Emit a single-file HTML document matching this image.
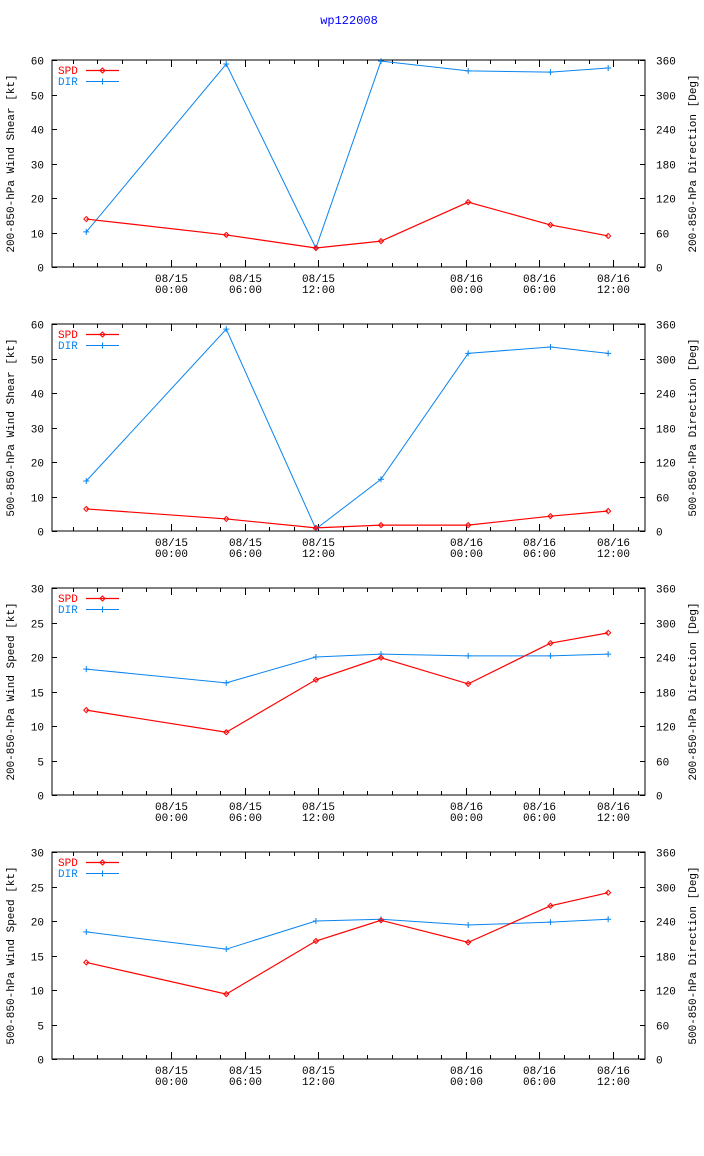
<!DOCTYPE html>
<html><head><meta charset="utf-8"><style>
body{margin:0;background:#fff;}
svg{display:block;font-family:"Liberation Mono",monospace;font-size:11px;}
</style></head><body>
<svg id="c" width="704" height="1156" viewBox="0 0 704 1156">
<text x="349" y="24" fill="#0000ff" text-anchor="middle" font-size="12">wp122008</text>
</svg>
<script>
const hours = [-6.9, 4.5, 11.8, 17.1, 24.2, 30.9, 35.6];
const spd1 = [13.9, 9.3, 5.5, 7.5, 18.8, 12.2, 9.0];
const dir1 = [61, 353, 33, 358, 341, 339, 346];
const spd2 = [6.4, 3.5, 0.9, 1.7, 1.7, 4.3, 5.8];
const dir2 = [87, 351, 3.5, 90, 309, 320, 309];
const spd3 = [12.3, 9.1, 16.7, 19.9, 16.1, 22.0, 23.5];
const dir3 = [219, 195, 240, 245, 242, 242, 245];
const spd4 = [14.0, 9.4, 17.1, 20.1, 16.9, 22.2, 24.1];
const dir4 = [221, 191, 240, 243, 233, 238, 243];
const leftTitles = ["200-850-hPa Wind Shear [kt]","500-850-hPa Wind Shear [kt]","200-850-hPa Wind Speed [kt]","500-850-hPa Wind Speed [kt]"];
const rightTitles = ["200-850-hPa Direction [Deg]","500-850-hPa Direction [Deg]","200-850-hPa Direction [Deg]","500-850-hPa Direction [Deg]"];
const leftMax = [60, 60, 30, 30];
const leftStep = [10, 10, 5, 5];
const dirTicks = [0, 60, 120, 180, 240, 300, 360];
const xTickHours = [0, 6, 12, 24, 30, 36];
const xTickLabels = [["08/15","00:00"],["08/15","06:00"],["08/15","12:00"],["08/16","00:00"],["08/16","06:00"],["08/16","12:00"]];
const spdSets = [spd1, spd2, spd3, spd4];
const dirSets = [dir1, dir2, dir3, dir4];

const svg = document.getElementById('c');
const NS = 'http://www.w3.org/2000/svg';
function mk(tag, attrs, parent){const e=document.createElementNS(NS,tag);for(const k in attrs)e.setAttribute(k,attrs[k]);(parent||svg).appendChild(e);return e;}
const L=52, R=645, pxPerHour=12.28, x0=171;
function xs(h){return x0 + h*pxPerHour;}

for(let p=0;p<4;p++){
  const top=60+p*264, bot=top+207, H=bot-top;
  const g=mk('g',{});
  
  
  const ys=v=>bot - v/leftMax[p]*H;
  const yd=v=>bot - v/360*H;
  const fr=mk('rect',{x:L,y:top,width:R-L,height:H,fill:'none',stroke:'#000','stroke-width':1},g);
  
  
  // left ticks
  for(let v=0;v<=leftMax[p];v+=leftStep[p]){
    const y=Math.round(ys(v))+0.5;
    mk('line',{x1:L,y1:y,x2:L+5,y2:y,stroke:'#000'},g);
    const t=mk('text',{x:44,y:y+4,'text-anchor':'end'},g);t.textContent=v;
    
    
  }
  for(const v of dirTicks){
    const y=Math.round(yd(v))+0.5;
    mk('line',{x1:R-5,y1:y,x2:R,y2:y,stroke:'#000'},g);
    const t=mk('text',{x:656,y:y+4},g);t.textContent=v;
    
    
  }
  // minor x ticks every 2h
  for(let h=-8;h<=38;h+=2){
    const x=Math.round(xs(h))+0.5;
    if(x<=L||x>=R)continue;
    mk('line',{x1:x,y1:bot,x2:x,y2:bot-4,stroke:'#000'},g);
    mk('line',{x1:x,y1:top,x2:x,y2:top+4,stroke:'#000'},g);
  }
  xTickHours.forEach((h,i)=>{
    const x=Math.round(xs(h))+0.5;
    mk('line',{x1:x,y1:bot,x2:x,y2:bot-7,stroke:'#000'},g);
    mk('line',{x1:x,y1:top,x2:x,y2:top+7,stroke:'#000'},g);
    const t1=mk('text',{x:x,y:bot+15,'text-anchor':'middle'},g);t1.textContent=xTickLabels[i][0];
    
    
    const t2=mk('text',{x:x,y:bot+26,'text-anchor':'middle'},g);t2.textContent=xTickLabels[i][1];
    
    
  });
  const lt=mk('text',{x:0,y:0,'text-anchor':'middle',transform:`translate(14,${(top+bot)/2}) rotate(-90)`},g);
  lt.textContent=leftTitles[p];
  
  
  const rt=mk('text',{x:0,y:0,'text-anchor':'middle',transform:`translate(696,${(top+bot)/2}) rotate(-90)`},g);
  rt.textContent=rightTitles[p];
  
  
  // series
  const spd=spdSets[p], dir=dirSets[p];
  const dl=mk('polyline',{points:hours.map((h,i)=>xs(h)+','+yd(dir[i])).join(' '),fill:'none',stroke:'#0a84f0','stroke-width':1},g);
  
  
  hours.forEach((h,i)=>{const x=xs(h),y=yd(dir[i]);
    const m=mk('path',{d:`M${x-3},${y}H${x+3}M${x},${y-3}V${y+3}`,stroke:'#0a84f0'},g);
    
    });
  const sl=mk('polyline',{points:hours.map((h,i)=>xs(h)+','+ys(spd[i])).join(' '),fill:'none',stroke:'#ff0000','stroke-width':1.2},g);
  
  
  hours.forEach((h,i)=>{const x=xs(h),y=ys(spd[i]);
    const m=mk('path',{d:`M${x-2.5},${y}L${x},${y-2.5}L${x+2.5},${y}L${x},${y+2.5}Z`,stroke:'#ff0000',fill:'none'},g);
    
    });
  // legend
  const s=mk('text',{x:58,y:top+14,fill:'#ff0000'},g);s.textContent='SPD';
  
  
  mk('line',{x1:86,y1:top+10.5,x2:119,y2:top+10.5,stroke:'#ff0000','stroke-width':1.2},g);
  mk('path',{d:`M100,${top+10.5}l2.5,-2.5l2.5,2.5l-2.5,2.5z`,stroke:'#ff0000',fill:'none'},g);
  const d=mk('text',{x:58,y:top+25,fill:'#0a84f0'},g);d.textContent='DIR';
  
  
  mk('line',{x1:86,y1:top+21.5,x2:119,y2:top+21.5,stroke:'#0a84f0'},g);
  mk('path',{d:`M102.5,${top+18.5}v6`,stroke:'#0a84f0'},g);
}
</script>
</body></html>
